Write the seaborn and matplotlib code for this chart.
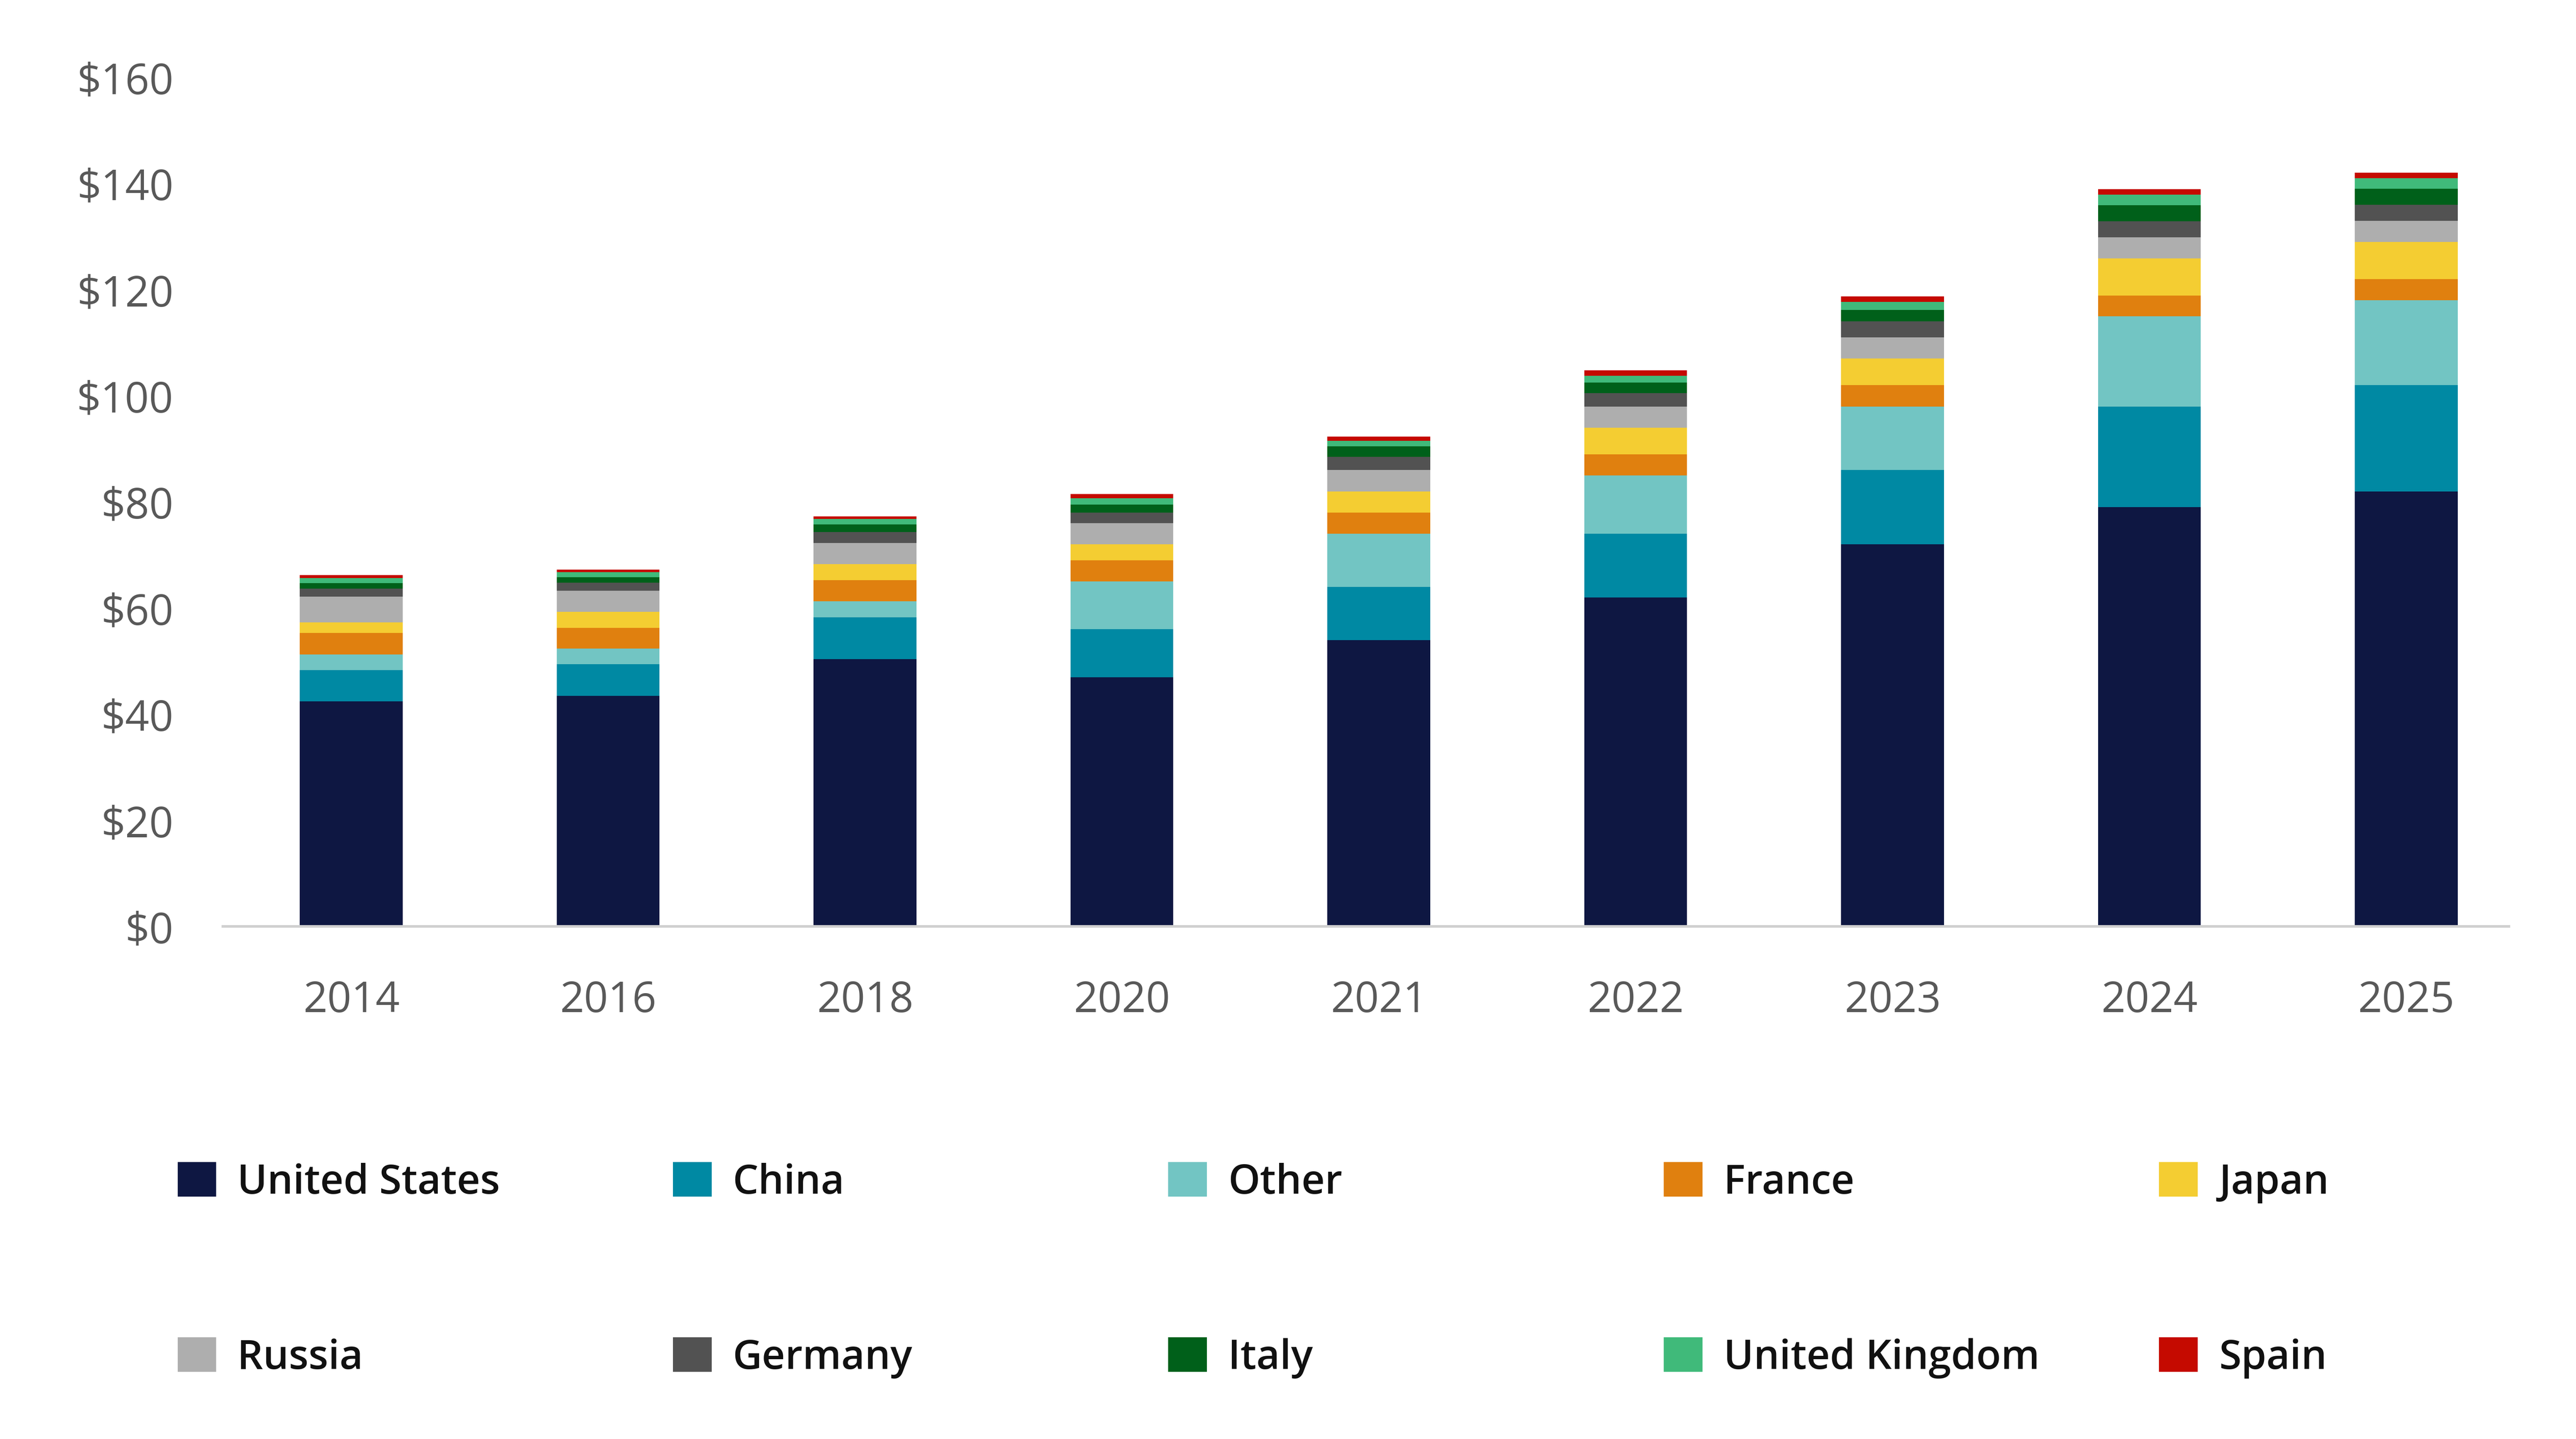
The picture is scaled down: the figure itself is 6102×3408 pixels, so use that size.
import seaborn as sns
import numpy as np
import matplotlib.pyplot as plt
from matplotlib.patches import Patch

# Data
years = ['2014', '2016', '2018', '2020', '2021', '2022', '2023', '2024', '2025']
united_states = [42.4, 43.5, 50.4, 47, 54, 62, 72, 79, 82]
china = [5.9, 5.9, 7.9, 9, 10, 12, 14, 19, 20]
other = [3.0, 3.0, 3.0, 9, 10, 11, 12, 17, 16]
france = [4.0, 3.9, 4.0, 4, 4, 4, 4, 3.9, 4]
japan = [2.0, 3.0, 3.0, 3, 4, 5, 5, 7, 7]
russia = [4.9, 4.0, 4.0, 4, 4, 4, 4, 4, 4]
germany = [1.5, 1.5, 2.0, 2, 2.5, 2.5, 3, 3, 3]
italy = [1.0, 1.0, 1.5, 1.5, 2, 2, 2.2, 3, 3]
united_kingdom = [1.0, 0.95, 1.0, 1.2, 1, 1.3, 1.5, 2, 2]
spain = [0.5, 0.5, 0.5, 0.8, 0.8, 1, 1, 1, 1]

series = [
    ('United States', united_states, '#0e1742'),
    ('China', china, '#0089a3'),
    ('Other', other, '#72c5c3'),
    ('France', france, '#e0800f'),
    ('Japan', japan, '#f4cd32'),
    ('Russia', russia, '#aeaeae'),
    ('Germany', germany, '#525252'),
    ('Italy', italy, '#00601a'),
    ('United Kingdom', united_kingdom, '#40ba7a'),
    ('Spain', spain, '#c50a00'),
]

sns.set_theme(style="white")
plt.rcParams['font.family'] = ['Open Sans', 'DejaVu Sans']

fig = plt.figure(figsize=(20.34, 11.363), dpi=300)
ax = fig.add_axes([0.0865, 0.356, 0.8875, 0.59])

bottom = np.zeros(len(years))
for name, vals, color in series:
    sns.barplot(x=years, y=vals, bottom=bottom, color=color, width=0.4,
                ax=ax, linewidth=0, saturation=1)
    bottom += np.array(vals)

ax.set_xlim(-0.5, 8.4)
ax.set_ylim(0, 160)
ax.set_yticks(range(0, 161, 20))
ax.set_yticklabels([f'\\${v}' for v in range(0, 161, 20)])
ax.tick_params(axis='both', labelsize=24, labelcolor='#595959', length=0)
ax.tick_params(axis='x', pad=30)
ax.tick_params(axis='y', pad=28)
for s in ['top', 'right', 'left']:
    ax.spines[s].set_visible(False)
ax.spines['bottom'].set_color('#d0d0d0')
ax.spines['bottom'].set_linewidth(1.5)
ax.set_xlabel('')
ax.set_ylabel('')

# legend: one small legend per column, two rows each
handles = [Patch(facecolor=c, label=n) for n, _, c in series]
col_x = [0.0686, 0.2609, 0.4532, 0.6455, 0.8378]
for i, x0 in enumerate(col_x):
    pair = [handles[i], handles[i + 5]]
    leg = fig.legend(pair, [h.get_label() for h in pair], loc='center left',
                     bbox_to_anchor=(x0, 0.1177), frameon=False,
                     handlelength=1.0, handleheight=1.0, handletextpad=0.5,
                     labelspacing=3.3, borderaxespad=0, borderpad=0,
                     prop={'size': 23, 'weight': 'semibold'})
    for t in leg.get_texts():
        t.set_color('#111111')

fig.savefig('out.png', dpi=300)
